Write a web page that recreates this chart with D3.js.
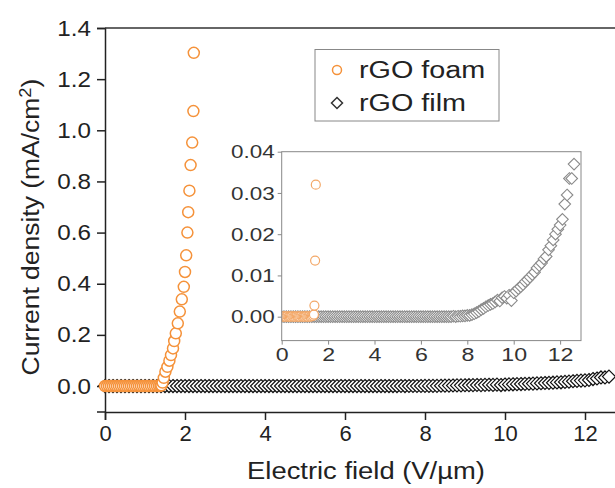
<!DOCTYPE html>
<html>
<head>
    <meta charset="utf-8">
    <title>field emission</title>
    <script src="https://d3js.org/d3.v7.min.js"></script>
    <style>
        body { margin: 0px; background: #fff; }
        text { font-family: "Liberation Sans", Arial, sans-serif; }
    </style>
</head>
<body>
<svg width="615" height="488"></svg>
<script>

    // rGO foam (orange circles)
    var foamX = [0, 0.05, 0.1, 0.15, 0.2, 0.25, 0.3, 0.35, 0.4, 0.45, 0.5, 0.55, 0.6, 0.65, 0.7,
        0.75, 0.8, 0.85, 0.9, 0.95, 1.0, 1.05, 1.1, 1.15, 1.2, 1.25, 1.3, 1.35, 1.39,
        1.41, 1.44, 1.47, 1.51, 1.56, 1.61, 1.65, 1.70, 1.73, 1.77, 1.82, 1.87, 1.92,
        1.97, 2.00, 2.03, 2.06, 2.08, 2.11, 2.14, 2.18, 2.21, 2.22];
    var foamY = [0, 0, 0.0001, 0, 0, 0.0001, 0, 0, 0, 0.0001, 0, 0, 0, 0.0001, 0,
        0, 0, 0.0001, 0, 0, 0, 0.0001, 0, 0, 0.0001, 0, 0.0001, 0.0002, 0.0005,
        0.0027, 0.0136, 0.032, 0.056, 0.075, 0.099, 0.121, 0.147, 0.176, 0.206, 0.245, 0.291, 0.339,
        0.388, 0.446, 0.511, 0.600, 0.680, 0.764, 0.864, 0.952, 1.075, 1.303];

    // rGO film (diamonds)
    var filmX = [0, 0.1, 0.2, 0.3, 0.4, 0.5, 0.6, 0.7, 0.8, 0.9, 1.0, 1.1, 1.2, 1.3, 1.4, 1.5, 1.6, 1.7, 1.8, 1.9,
        2.0, 2.1, 2.2, 2.3, 2.4, 2.5, 2.6, 2.7, 2.8, 2.9, 3.0, 3.1, 3.2, 3.3, 3.4, 3.5, 3.6, 3.7, 3.8, 3.9,
        4.0, 4.1, 4.2, 4.3, 4.4, 4.5, 4.6, 4.7, 4.8, 4.9, 5.0, 5.1, 5.2, 5.3, 5.4, 5.5, 5.6, 5.7, 5.8, 5.9,
        6.0, 6.1, 6.2, 6.3, 6.4, 6.5, 6.6, 6.7, 6.8, 6.9, 7.0, 7.1, 7.2, 7.3, 7.4, 7.5, 7.6, 7.7, 7.8, 7.9,
        8.0, 8.1, 8.2, 8.3, 8.4, 8.5, 8.6, 8.7, 8.8, 8.9, 9.0, 9.1, 9.2, 9.3, 9.4, 9.5, 9.6, 9.7, 9.8, 9.9,
        10.0, 10.1, 10.2, 10.3, 10.4, 10.5, 10.6, 10.7, 10.8, 10.9, 11.0, 11.1, 11.2, 11.3, 11.4, 11.5, 11.6,
        11.7, 11.8, 11.9, 12.0, 12.1, 12.2, 12.3, 12.4, 12.5, 12.6];
    var filmY = [0, 0, 0, 0, 0, 0, 0, 0, 0, 0, 0, 0, 0, 0, 0, 0, 0, 0, 0, 0,
        0, 0, 0, 0, 0, 0, 0, 0, 0, 0, 0, 0, 0, 0, 0, 0, 0, 0, 0, 0,
        0, 0, 0, 0, 0, 0, 0, 0, 0, 0, 0, 0, 0, 0, 0, 0, 0, 0, 0, 0,
        0, 0, 0, 0, 0, 0, 0, 0, 0, 0, 0, 0, 0, 0, 0.0001, 0, 0.0001, 0.0001, 0.0002, 0.0002,
        0.0003, 0.0003, 0.0005, 0.0007, 0.0010, 0.0013, 0.0017, 0.0020, 0.0024, 0.0027, 0.0030, 0.0032, 0.0036, 0.0040, 0.0038, 0.0046, 0.0049, 0.0045, 0.0052, 0.0039,
        0.0058, 0.0062, 0.0068, 0.0073, 0.0078, 0.0085, 0.0090, 0.0096, 0.0102, 0.0108, 0.0118, 0.0124, 0.0130, 0.0140, 0.0146, 0.0162, 0.0172,
        0.0186, 0.0200, 0.0212, 0.0222, 0.0236, 0.0273, 0.0295, 0.0335, 0.0335, 0.0370];

    var mainXTicks = [0, 2, 4, 6, 8, 10, 12],
        mainYTicks = [0, 0.2, 0.4, 0.6, 0.8, 1.0, 1.2, 1.4],
        insetXTicks = [0, 2, 4, 6, 8, 10, 12],
        insetYTicks = [0, 0.01, 0.02, 0.03, 0.04],
        legendLabels = ["rGO foam", "rGO film"];

    var orange = "#f5923a";

    var svg = d3.select("svg"),
        foam = foamX.map(function (d, i){ return {x: d, y: foamY[i]}; }),
        film = filmX.map(function (d, i){ return {x: d, y: filmY[i]}; });

    function diamond(s){
        return "M0," + (-s) + "L" + s + ",0L0," + s + "L" + (-s) + ",0Z";
    }

    // the original lettering is wider than Liberation Sans
    function stretch(sel, k){
        sel.each(function (){
            var len = this.getComputedTextLength();
            d3.select(this)
                .attr("textLength", len * k)
                .attr("lengthAdjust", "spacingAndGlyphs");
        });
    }

    // main chart
    var x = d3.scaleLinear().domain([0, 13]).range([105, 625]),
        y = d3.scaleLinear().domain([-0.1, 1.4]).range([411.6, 28]);

    svg.append("g")
        .attr("transform", "translate(0,412)")
        .call(d3.axisBottom(x).tickValues(mainXTicks).tickSize(8).tickPadding(5).tickFormat(d3.format("d")))
        .call(function (g){
            g.select(".domain").attr("stroke", "#222").attr("stroke-width", 1.5);
            g.selectAll(".tick line").attr("stroke", "#222").attr("stroke-width", 1.5);
            g.selectAll("text").attr("font-size", 22).attr("fill", "#222")
                .attr("font-family", "Liberation Sans, Arial, sans-serif");
        });

    svg.append("g")
        .attr("transform", "translate(105,0)")
        .call(d3.axisLeft(y).tickValues(mainYTicks).tickSize(8).tickPadding(6).tickFormat(d3.format(".1f")))
        .call(function (g){
            g.select(".domain").attr("stroke", "#222").attr("stroke-width", 1.5);
            g.selectAll(".tick line").attr("stroke", "#222").attr("stroke-width", 1.5);
            g.selectAll("text").attr("font-size", 22).attr("fill", "#222")
                .attr("font-family", "Liberation Sans, Arial, sans-serif")
                .call(stretch, 1.1);
        });

    svg.append("line")
        .attr("x1", 105).attr("x2", 625)
        .attr("y1", 28).attr("y2", 28)
        .attr("stroke", "#333").attr("stroke-width", 1.5);

    svg.append("g").selectAll("path")
        .data(film)
        .enter()
        .append("path")
        .attr("transform", function (d){ return "translate(" + x(d.x) + "," + y(d.y) + ")"; })
        .attr("d", diamond(6.5))
        .attr("fill", "#fff")
        .attr("stroke", "#111")
        .attr("stroke-width", 1.2);

    svg.append("g").selectAll("circle")
        .data(foam)
        .enter()
        .append("circle")
        .attr("cx", function (d){ return x(d.x); })
        .attr("cy", function (d){ return y(d.y); })
        .attr("r", 5.5)
        .attr("fill", "#fff")
        .attr("stroke", orange)
        .attr("stroke-width", 1.5);

    svg.append("text")
        .attr("x", 366)
        .attr("y", 479)
        .attr("text-anchor", "middle")
        .attr("font-size", 23)
        .attr("fill", "#222")
        .text("Electric field (V/\u00b5m)")
        .call(stretch, 1.19);

    var yTitle = svg.append("text")
        .attr("transform", "translate(39,227) rotate(-90)")
        .attr("text-anchor", "middle")
        .attr("font-size", 23)
        .attr("fill", "#222");
    yTitle.append("tspan").text("Current density (mA/cm");
    yTitle.append("tspan").attr("baseline-shift", "super").attr("font-size", 16).text("2");
    yTitle.append("tspan").text(")");
    yTitle.call(stretch, 1.15);

    // legend
    var legend = svg.append("g");
    legend.append("rect")
        .attr("x", 315).attr("y", 49.5)
        .attr("width", 184).attr("height", 71.5)
        .attr("fill", "#fff")
        .attr("stroke", "#888")
        .attr("stroke-width", 1);
    legend.append("circle")
        .attr("cx", 337).attr("cy", 70).attr("r", 4.5)
        .attr("fill", "none").attr("stroke", orange).attr("stroke-width", 1.5);
    legend.append("path")
        .attr("transform", "translate(337,103)")
        .attr("d", diamond(5.5))
        .attr("fill", "none").attr("stroke", "#333").attr("stroke-width", 1.5);
    legend.selectAll("text")
        .data(legendLabels)
        .enter()
        .append("text")
        .attr("x", 359)
        .attr("y", function (d, i){ return 78 + i * 33; })
        .attr("font-size", 23)
        .attr("fill", "#222")
        .text(function (d){ return d; })
        .call(stretch, 1.25);

    // inset
    var ix = d3.scaleLinear().domain([0, 12.9]).range([281.7, 581]),
        iy = d3.scaleLinear().domain([-0.0058, 0.04]).range([340.6, 151.7]);

    var inset = svg.append("g");
    inset.append("clipPath").attr("id", "insetClip")
        .append("rect")
        .attr("x", 281.7).attr("y", 151.7)
        .attr("width", 581 - 281.7).attr("height", 340.6 - 151.7);
    inset.append("rect")
        .attr("x", 281.7).attr("y", 151.7)
        .attr("width", 581 - 281.7).attr("height", 340.6 - 151.7)
        .attr("fill", "#fff");

    var pts = inset.append("g").attr("clip-path", "url(#insetClip)");
    pts.selectAll("path")
        .data(film)
        .enter()
        .append("path")
        .attr("transform", function (d){ return "translate(" + ix(d.x) + "," + iy(d.y) + ")"; })
        .attr("d", diamond(5.8))
        .attr("fill", "#fff")
        .attr("stroke", "#8a8a8a")
        .attr("stroke-width", 1.1);
    pts.selectAll("circle")
        .data(foam)
        .enter()
        .append("circle")
        .attr("cx", function (d){ return ix(d.x); })
        .attr("cy", function (d){ return iy(d.y); })
        .attr("r", 4.5)
        .attr("fill", "#fff")
        .attr("stroke", "#f3a868")
        .attr("stroke-width", 1.2);

    inset.append("rect")
        .attr("x", 281.7).attr("y", 151.7)
        .attr("width", 581 - 281.7).attr("height", 340.6 - 151.7)
        .attr("fill", "none")
        .attr("stroke", "#888")
        .attr("stroke-width", 1);

    inset.append("g")
        .attr("transform", "translate(0,340.6)")
        .call(d3.axisBottom(ix).tickValues(insetXTicks).tickSize(4).tickPadding(3).tickFormat(d3.format("d")))
        .call(function (g){
            g.select(".domain").remove();
            g.selectAll(".tick line").attr("stroke", "#888");
            g.selectAll("text").attr("font-size", 19).attr("fill", "#333")
                .attr("font-family", "Liberation Sans, Arial, sans-serif")
                .call(stretch, 1.22);
        });

    inset.append("g")
        .attr("transform", "translate(281.7,0)")
        .call(d3.axisLeft(iy).tickValues(insetYTicks).tickSize(4).tickPadding(3).tickFormat(d3.format(".2f")))
        .call(function (g){
            g.select(".domain").remove();
            g.selectAll(".tick line").attr("stroke", "#888");
            g.selectAll("text").attr("font-size", 19).attr("fill", "#333")
                .attr("font-family", "Liberation Sans, Arial, sans-serif")
                .call(stretch, 1.18);
        });
</script>
</body>
</html>
